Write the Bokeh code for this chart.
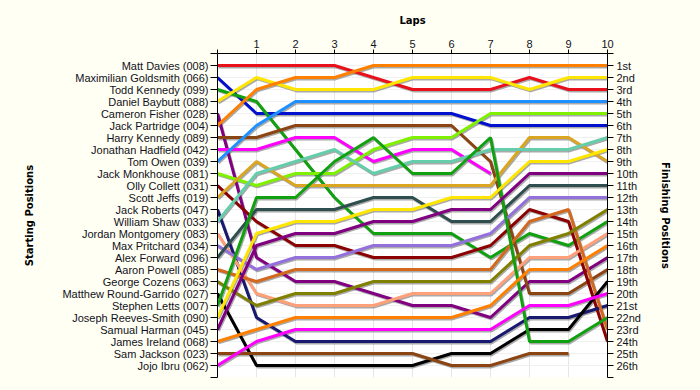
from bokeh.plotting import figure
from bokeh.models import FixedTicker, LinearAxis, Range1d
from bokeh.embed import file_html
from bokeh.resources import INLINE

NAN = float("nan")

laps = list(range(0, 11))
lap_labels = ["", "1", "2", "3", "4", "5", "6", "7", "8", "9", "10"]

drivers = [
    "Matt Davies (008)", "Maximilian Goldsmith (066)", "Todd Kennedy (099)",
    "Daniel Baybutt (088)", "Cameron Fisher (028)", "Jack Partridge (004)",
    "Harry Kennedy (089)", "Jonathan Hadfield (042)", "Tom Owen (039)",
    "Jack Monkhouse (081)", "Olly Collett (031)", "Scott Jeffs (019)",
    "Jack Roberts (047)", "William Shaw (033)", "Jordan Montgomery (083)",
    "Max Pritchard (034)", "Alex Forward (096)", "Aaron Powell (085)",
    "George Cozens (063)", "Matthew Round-Garrido (027)", "Stephen Letts (007)",
    "Joseph Reeves-Smith (090)", "Samual Harman (045)", "James Ireland (068)",
    "Sam Jackson (023)", "Jojo Ibru (062)",
]

finish_labels = [
    "1st", "2nd", "3rd", "4th", "5th", "6th", "7th", "8th", "9th", "10th",
    "11th", "12th", "13th", "14th", "15th", "16th", "17th", "18th", "19th",
    "20th", "21st", "22nd", "23rd", "24th", "25th", "26th",
]

# position of each driver after each lap (lap 0 = grid)
pos_davies = [1, 1, 1, 1, 2, 3, 3, 3, 2, 3, 3]
pos_goldsmith = [2, 5, 5, 5, 5, 5, 5, 6, 6, 6, 6]
pos_t_kennedy = [3, 4, 8, 12, 15, 15, 15, 17, 15, 16, 14]
pos_baybutt = [4, 2, 3, 3, 3, 2, 2, 2, 3, 2, 2]
pos_fisher = [5, 17, 19, 19, 20, 21, 21, 22, 19, 19, 17]
pos_partridge = [6, 3, 2, 2, 1, 1, 1, 1, 1, 1, 1]
pos_h_kennedy = [7, 7, 6, 6, 6, 6, 6, 9, 20, 20, 18]
pos_hadfield = [8, 8, 7, 7, 9, 8, 8, 10, NAN, NAN, NAN]
pos_owen = [9, 6, 4, 4, 4, 4, 4, 4, 4, 4, 4]
pos_monkhouse = [10, 11, 10, 10, 8, 7, 7, 5, 5, 5, 5]
pos_collett = [11, 14, 16, 16, 17, 17, 17, 16, 13, 14, 24]
pos_jeffs = [12, 9, 11, 11, 11, 11, 11, 11, 7, 7, 9]
pos_roberts = [13, 22, 24, 24, 24, 24, 24, 24, 22, 22, 21]
pos_shaw = [14, 10, 9, 8, 10, 9, 9, 8, 8, 8, 7]
pos_montgomery = [15, 20, 21, 21, 21, 20, 20, 20, 17, 17, 15]
pos_pritchard = [16, 18, 17, 17, 16, 16, 16, 15, 12, 12, 12]
pos_forward = [17, 13, 13, 13, 12, 12, 14, 14, 11, 11, 11]
pos_powell = [18, 19, 18, 18, 18, 18, 18, 18, 14, 13, 23]
pos_cozens = [19, 21, 20, 20, 19, 19, 19, 19, 16, 15, 13]
pos_round_garrido = [20, 26, 26, 26, 26, 26, 25, 25, 23, 23, 19]
pos_letts = [21, 12, 12, 9, 7, 10, 10, 7, 24, 24, 22]
pos_reeves_smith = [22, 15, 14, 14, 13, 13, 12, 12, 9, 9, 8]
pos_harman = [23, 16, 15, 15, 14, 14, 13, 13, 10, 10, 10]
pos_ireland = [24, 23, 22, 22, 22, 22, 22, 21, 18, 18, 16]
pos_jackson = [25, 25, 25, 25, 25, 25, 26, 26, 25, 25, NAN]
pos_ibru = [26, 24, 23, 23, 23, 23, 23, 23, 21, 21, 20]

all_positions = [
    pos_davies, pos_goldsmith, pos_t_kennedy, pos_baybutt, pos_fisher,
    pos_partridge, pos_h_kennedy, pos_hadfield, pos_owen, pos_monkhouse,
    pos_collett, pos_jeffs, pos_roberts, pos_shaw, pos_montgomery,
    pos_pritchard, pos_forward, pos_powell, pos_cozens, pos_round_garrido,
    pos_letts, pos_reeves_smith, pos_harman, pos_ireland, pos_jackson, pos_ibru,
]

palette = [
    "#E8101A", "#0010CC", "#10A010", "#FFE600", "#800080", "#FF8000",
    "#8B4513", "#FF00FF", "#1E90FF", "#7FF000", "#8B0000", "#DAA520",
    "#191970", "#66CDAA", "#FFA07A", "#9370DB", "#2F4F4F", "#D2691E",
    "#808000", "#000000", "#10A010", "#FFE600", "#800080", "#FF8000",
    "#8B4513", "#FF00FF",
]

BG = "#FFFFF3"
LABEL_FONT = "Liberation Sans"
TITLE_FONT = "DejaVu Sans"

n_pos = len(drivers)
p = figure(
    width=700, height=390,
    x_range=Range1d(0, 10), y_range=Range1d(n_pos + 1, 0),
    x_axis_location="above",
    output_backend="svg", toolbar_location=None,
    min_border_left=217, min_border_right=93,
    min_border_top=53, min_border_bottom=13,
    background_fill_color="white", border_fill_color=BG,
    outline_line_color=None,
)

pos_ticks = list(range(0, n_pos + 2))
left_overrides = {t: "" for t in pos_ticks}
right_overrides = {t: "" for t in pos_ticks}
for i, name in enumerate(drivers):
    left_overrides[i + 1] = name
for i, lab in enumerate(finish_labels):
    right_overrides[i + 1] = lab

# top axis (laps)
xa = p.xaxis[0]
xa.ticker = FixedTicker(ticks=laps)
xa.major_label_overrides = {i: lab for i, lab in zip(laps, lap_labels)}
xa.axis_label = "Laps"
xa.minor_tick_line_color = None
xa.major_tick_out = 4
xa.major_tick_in = 0
xa.major_label_standoff = 2
xa.axis_label_standoff = 11

# left axis (starting positions)
ya = p.yaxis[0]
ya.ticker = FixedTicker(ticks=pos_ticks)
ya.major_label_overrides = left_overrides
ya.axis_label = "Starting Positions"
ya.minor_tick_line_color = None
ya.major_tick_out = 7
ya.major_tick_in = 0
ya.major_label_standoff = 2
ya.axis_label_standoff = 24

# right axis (finishing positions)
ra = LinearAxis(
    ticker=FixedTicker(ticks=pos_ticks),
    major_label_overrides=right_overrides,
    axis_label="Finishing Positions",
)
ra.minor_tick_line_color = None
ra.major_tick_out = 6
ra.major_tick_in = 0
ra.major_label_standoff = 3
ra.axis_label_standoff = 16
p.add_layout(ra, "right")

for ax in [xa, ya, ra]:
    ax.axis_line_color = "black"
    ax.major_tick_line_color = "black"
    ax.major_label_text_font = LABEL_FONT
    ax.major_label_text_font_size = "11px"
    ax.major_label_text_color = "#111122"
    ax.axis_label_text_font = TITLE_FONT
    ax.axis_label_text_font_size = "10px"
    ax.axis_label_text_font_style = "bold"
    ax.axis_label_text_color = "black"

p.xgrid.ticker = FixedTicker(ticks=laps)
p.xgrid.grid_line_color = "#E6E6E6"
p.ygrid.ticker = FixedTicker(ticks=pos_ticks)
p.ygrid.grid_line_color = "#F0F0F0"

# drop shadows (1px right, 1.4px down in screen terms)
dx = 10 / 390.0
dy = 1.4 * (n_pos + 1) / 324.0
for pos in all_positions:
    p.line([x + dx for x in laps], [y + dy for y in pos],
           line_color="#8C8C8C", line_width=3, line_alpha=0.75)

for pos, col in zip(all_positions, palette):
    p.line(laps, pos, line_color=col, line_width=3)

html = file_html(p, INLINE)
html = html.replace("</head>", "<style>html, body {background-color: %s;}</style></head>" % BG, 1)
open("out.html", "w").write(html)
